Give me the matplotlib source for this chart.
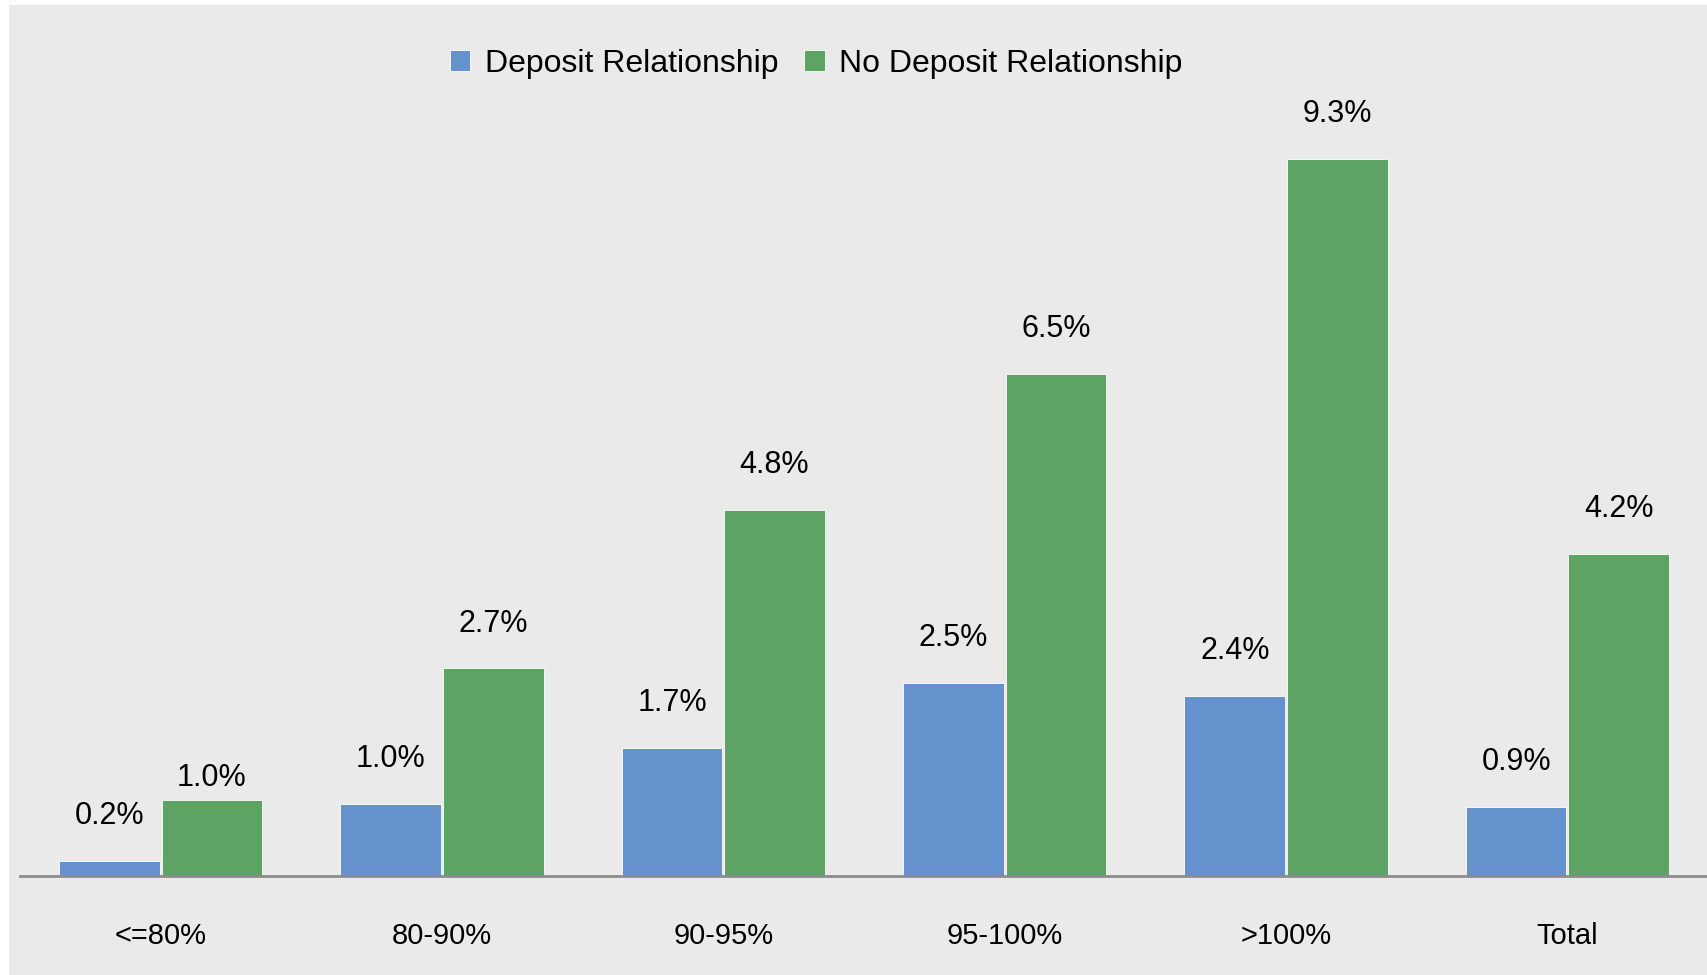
"""Loss rates by LTV bucket, split by deposit relationship."""

import matplotlib.pyplot as plt
from matplotlib.patches import Rectangle

categories = ['<=80%', '80-90%', '90-95%', '95-100%', '>100%', 'Total']
deposit = [0.2, 0.93, 1.66, 2.5, 2.33, 0.9]
no_deposit = [0.99, 2.69, 4.74, 6.5, 9.29, 4.17]
deposit_labels = ['0.2%', '1.0%', '1.7%', '2.5%', '2.4%', '0.9%']
no_deposit_labels = ['1.0%', '2.7%', '4.8%', '6.5%', '9.3%', '4.2%']

BLUE = '#6591CC'
GREEN = '#5DA464'
BG = '#EAEAEA'

plt.rcParams['font.family'] = ['Liberation Sans', 'DejaVu Sans']

W, H = 1708, 975
fig = plt.figure(figsize=(W / 100, H / 100), dpi=100, facecolor='white')

# gray panel with a thin white margin on the left and top
fig.patches.append(Rectangle((9 / W, 0), 1 - 9 / W, 1 - 5 / H,
                             transform=fig.transFigure, facecolor=BG,
                             edgecolor='none', zorder=-10))

ax = fig.add_axes([20 / W, (H - 876) / H, (W - 20) / W, (876 - 100) / H])
ax.set_zorder(5)
ax.patch.set_visible(False)

x = list(range(len(categories)))
width = 0.358
off = 0.182
b1 = ax.bar([i - off for i in x], deposit, width, color=BLUE,
            label='Deposit Relationship', edgecolor='white', linewidth=0.6)
b2 = ax.bar([i + off for i in x], no_deposit, width, color=GREEN,
            label='No Deposit Relationship', edgecolor='white', linewidth=0.6)

for bars, labels, series in ((b1, deposit_labels, 0),
                             (b2, no_deposit_labels, 1)):
    for i, (bar, lab) in enumerate(zip(bars, labels)):
        # the first green label sits closer to its bar in the original
        dy = 10 if (series == 1 and i == 0) else 26.5
        ax.annotate(lab,
                    (bar.get_x() + bar.get_width() / 2, bar.get_height()),
                    xytext=(0, dy), textcoords='offset points',
                    ha='center', va='baseline', fontsize=22)

ax.set_xlim(-0.5, 5.5)
ax.set_ylim(0, 776 / 77.2)
ax.set_xticks(x)
ax.set_xticklabels(categories, fontsize=21)
ax.tick_params(axis='x', length=0, pad=33)
ax.set_yticks([])

for side in ('left', 'right', 'top'):
    ax.spines[side].set_visible(False)
ax.spines['bottom'].set_color('#8C8C8C')
ax.spines['bottom'].set_linewidth(2)

leg = fig.legend(handles=[b1, b2], loc='center', ncol=2, frameon=False,
                 bbox_to_anchor=(816 / W, 1 - 64 / H), fontsize=23,
                 handlelength=0.65, handleheight=0.65, handletextpad=0.45,
                 columnspacing=0.8)
leg.set_zorder(6)

fig.savefig('out.png', dpi=100, facecolor='white')
